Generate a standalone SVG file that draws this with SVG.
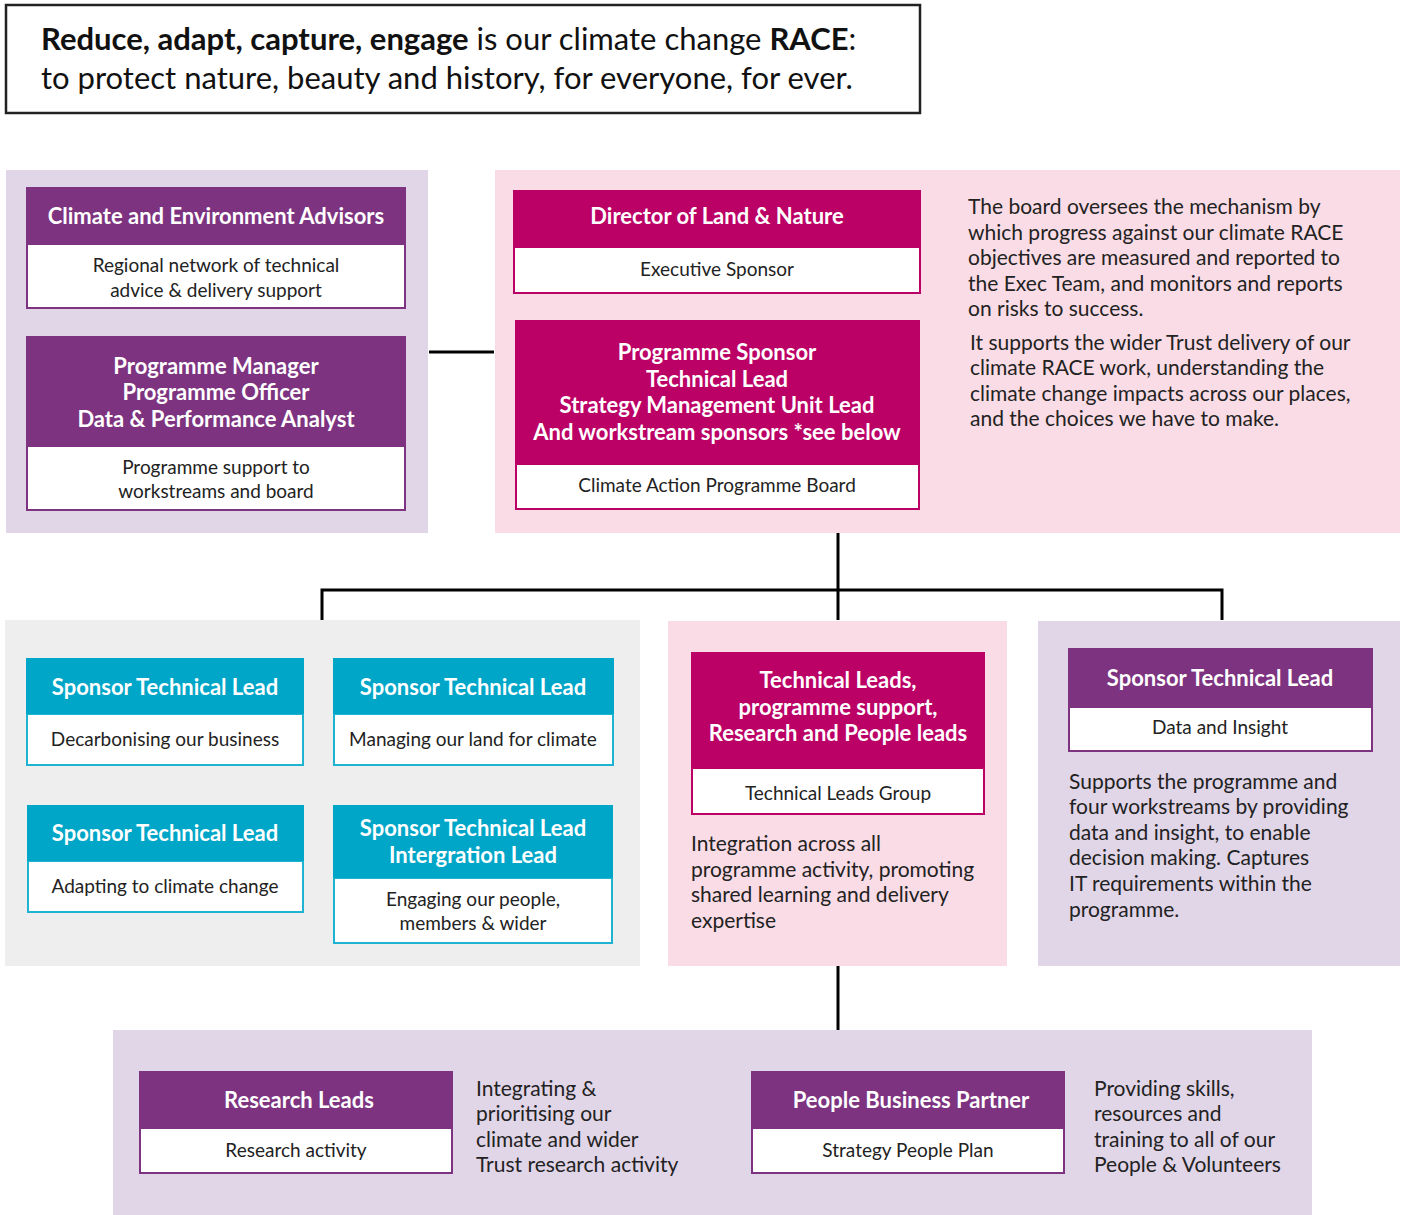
<svg xmlns="http://www.w3.org/2000/svg" width="1405" height="1215" viewBox="0 0 1405 1215">
<style>
text{font-family:Lato,"Open Sans","Liberation Sans",sans-serif}
.hd{fill:#fff;font-weight:bold;font-size:22px;text-anchor:middle}
.bd{fill:#222;font-size:19px;text-anchor:middle}
.para{fill:#222;font-size:21px}
.body{fill:#fff}
.pur .hdr{fill:#7d3380}.pur .body{stroke:#7d3380;stroke-width:2}
.mag .hdr{fill:#bb0066}.mag .body{stroke:#bb0066;stroke-width:2}
.teal .hdr{fill:#00a6c8}.teal .body{stroke:#1fb3d2;stroke-width:2}
.conn{stroke:#000;stroke-width:3;fill:none}
</style>
<rect width="1405" height="1215" fill="#fff"/>
<g id="title">
<rect x="6" y="5" width="914" height="108" fill="#fff" stroke="#222" stroke-width="2.5"/>
<text x="41" y="50" font-size="31" fill="#111"><tspan font-weight="bold">Reduce, adapt, capture, engage</tspan> is our climate change <tspan font-weight="bold">RACE</tspan>:</text>
<text x="41" y="89" font-size="31" fill="#111">to protect nature, beauty and history, for everyone, for ever.</text>
</g>
<g id="panels">
<rect x="6" y="170" width="422" height="363" fill="#e1d5e8"/>
<rect x="495" y="170" width="905" height="363" fill="#f9dce5"/>
<rect x="5" y="620" width="635" height="346" fill="#eeeeee"/>
<rect x="668" y="621" width="339" height="345" fill="#f9dce5"/>
<rect x="1038" y="621" width="362" height="345" fill="#e1d5e8"/>
<rect x="113" y="1030" width="1199" height="185" fill="#e1d5e8"/>
</g>
<g id="connectors">
<line class="conn" x1="429" y1="352" x2="494" y2="352"/>
<polyline class="conn" points="838,533 838,620"/>
<polyline class="conn" points="322,620 322,590 1222,590 1222,620"/>
<line class="conn" x1="838" y1="966" x2="838" y2="1030"/>
</g>
<g id="cea" class="pur">
<rect class="body" x="27" y="244" width="378" height="64"/>
<rect class="hdr" x="26" y="187" width="380" height="57"/>
<text class="hd" x="216" y="224">Climate and Environment Advisors</text>
<text class="bd" x="216" y="272">Regional network of technical</text>
<text class="bd" x="216" y="297">advice &amp; delivery support</text>
</g>
<g id="pm" class="pur">
<rect class="body" x="27" y="446" width="378" height="64"/>
<rect class="hdr" x="26" y="336" width="380" height="110"/>
<text class="hd" x="216" y="374">Programme Manager</text>
<text class="hd" x="216" y="400">Programme Officer</text>
<text class="hd" x="216" y="427">Data &amp; Performance Analyst</text>
<text class="bd" x="216" y="474">Programme support to</text>
<text class="bd" x="216" y="498">workstreams and board</text>
</g>
<g id="director" class="mag">
<rect class="body" x="514" y="247" width="406" height="46"/>
<rect class="hdr" x="513" y="190" width="408" height="57"/>
<text class="hd" x="717" y="224">Director of Land &amp; Nature</text>
<text class="bd" x="717" y="276">Executive Sponsor</text>
</g>
<g id="board" class="mag">
<rect class="body" x="516" y="464" width="403" height="45"/>
<rect class="hdr" x="515" y="320" width="405" height="144"/>
<text class="hd" x="717" y="360">Programme Sponsor</text>
<text class="hd" x="717" y="387">Technical Lead</text>
<text class="hd" x="717" y="413">Strategy Management Unit Lead</text>
<text class="hd" x="717" y="440">And workstream sponsors *see below</text>
<text class="bd" x="717" y="492">Climate Action Programme Board</text>
</g>
<g id="board-text">
<text class="para" x="968" y="214">The board oversees the mechanism by</text>
<text class="para" x="968" y="240">which progress against our climate RACE</text>
<text class="para" x="968" y="265">objectives are measured and reported to</text>
<text class="para" x="968" y="291">the Exec Team, and monitors and reports</text>
<text class="para" x="968" y="316">on risks to success.</text>
<text class="para" x="970" y="350">It supports the wider Trust delivery of our</text>
<text class="para" x="970" y="375">climate RACE work, understanding the</text>
<text class="para" x="970" y="401">climate change impacts across our places,</text>
<text class="para" x="970" y="426">and the choices we have to make.</text>
</g>
<g id="stl-decarb" class="teal">
<rect class="body" x="27" y="714" width="276" height="51"/>
<rect class="hdr" x="26" y="658" width="278" height="56"/>
<text class="hd" x="165" y="695">Sponsor Technical Lead</text>
<text class="bd" x="165" y="746">Decarbonising our business</text>
</g>
<g id="stl-land" class="teal">
<rect class="body" x="334" y="714" width="279" height="51"/>
<rect class="hdr" x="333" y="658" width="281" height="56"/>
<text class="hd" x="473" y="695">Sponsor Technical Lead</text>
<text class="bd" x="473" y="746">Managing our land for climate</text>
</g>
<g id="stl-adapt" class="teal">
<rect class="body" x="28" y="861" width="275" height="51"/>
<rect class="hdr" x="27" y="805" width="277" height="56"/>
<text class="hd" x="165" y="841">Sponsor Technical Lead</text>
<text class="bd" x="165" y="893">Adapting to climate change</text>
</g>
<g id="stl-engage" class="teal">
<rect class="body" x="334" y="878" width="278" height="65"/>
<rect class="hdr" x="333" y="805" width="280" height="73"/>
<text class="hd" x="473" y="836">Sponsor Technical Lead</text>
<text class="hd" x="473" y="863">Intergration Lead</text>
<text class="bd" x="473" y="906">Engaging our people,</text>
<text class="bd" x="473" y="930">members &amp; wider</text>
</g>
<g id="tlg" class="mag">
<rect class="body" x="692" y="768" width="292" height="46"/>
<rect class="hdr" x="691" y="652" width="294" height="116"/>
<text class="hd" x="838" y="688">Technical Leads,</text>
<text class="hd" x="838" y="715">programme support,</text>
<text class="hd" x="838" y="741">Research and People leads</text>
<text class="bd" x="838" y="800">Technical Leads Group</text>
</g>
<g id="tlg-text">
<text class="para" x="691" y="851">Integration across all</text>
<text class="para" x="691" y="877">programme activity, promoting</text>
<text class="para" x="691" y="902">shared learning and delivery</text>
<text class="para" x="691" y="928">expertise</text>
</g>
<g id="data" class="pur">
<rect class="body" x="1069" y="707" width="303" height="44"/>
<rect class="hdr" x="1068" y="648" width="305" height="59"/>
<text class="hd" x="1220" y="686">Sponsor Technical Lead</text>
<text class="bd" x="1220" y="734">Data and Insight</text>
</g>
<g id="data-text">
<text class="para" x="1069" y="789">Supports the programme and</text>
<text class="para" x="1069" y="814">four workstreams by providing</text>
<text class="para" x="1069" y="840">data and insight, to enable</text>
<text class="para" x="1069" y="865">decision making. Captures</text>
<text class="para" x="1069" y="891">IT requirements within the</text>
<text class="para" x="1069" y="917">programme.</text>
</g>
<g id="research" class="pur">
<rect class="body" x="140" y="1128" width="312" height="45"/>
<rect class="hdr" x="139" y="1071" width="314" height="57"/>
<text class="hd" x="299" y="1108">Research Leads</text>
<text class="bd" x="296" y="1157">Research activity</text>
</g>
<g id="research-text">
<text class="para" x="476" y="1096">Integrating &amp;</text>
<text class="para" x="476" y="1121">prioritising our</text>
<text class="para" x="476" y="1147">climate and wider</text>
<text class="para" x="476" y="1172">Trust research activity</text>
</g>
<g id="people" class="pur">
<rect class="body" x="752" y="1128" width="312" height="45"/>
<rect class="hdr" x="751" y="1071" width="314" height="57"/>
<text class="hd" x="911" y="1108">People Business Partner</text>
<text class="bd" x="908" y="1157">Strategy People Plan</text>
</g>
<g id="people-text">
<text class="para" x="1094" y="1096">Providing skills,</text>
<text class="para" x="1094" y="1121">resources and</text>
<text class="para" x="1094" y="1147">training to all of our</text>
<text class="para" x="1094" y="1172">People &amp; Volunteers</text>
</g>
</svg>
